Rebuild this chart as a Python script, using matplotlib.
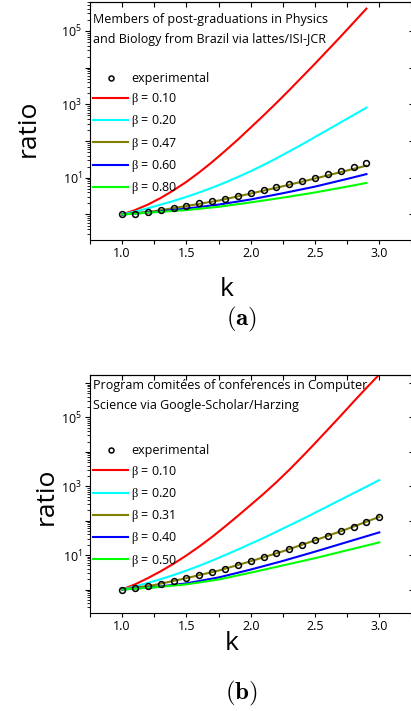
import matplotlib
matplotlib.use("Agg")
import matplotlib.pyplot as plt
from matplotlib import ticker
import numpy as np

plt.rcParams["font.family"] = ["Open Sans", "DejaVu Sans"]
plt.rcParams["mathtext.fontset"] = "custom"
plt.rcParams["mathtext.rm"] = "Liberation Serif"
plt.rcParams["mathtext.it"] = "Liberation Serif:italic"
plt.rcParams["mathtext.bf"] = "Liberation Serif:bold"

# ---- panel (a): post-graduations, lattes/ISI-JCR
k_exp_a = [1.0, 1.1, 1.2, 1.3, 1.4, 1.5, 1.6, 1.7, 1.8, 1.9,
           2.0, 2.1, 2.2, 2.3, 2.4, 2.5, 2.6, 2.7, 2.8, 2.9]
ratio_exp_a = [1.00, 1.05, 1.20, 1.32, 1.55, 1.74, 2.00, 2.34, 2.69, 3.16,
               3.89, 4.57, 5.62, 6.92, 8.13, 10.0, 12.6, 15.8, 20.0, 25.1]
k_fine_a = k_exp_a
k_fit_a = [1.0, 1.25, 1.5, 1.75, 2.0, 2.25, 2.5, 2.75, 2.9]
beta_a = ["0.10", "0.20", "0.47", "0.60", "0.80"]
fit_a_010 = [1, 1.32, 1.86, 2.82, 4.57, 7.76, 14.1, 26.9, 53.7, 110,
             234, 501, 1096, 2455, 5623, 12880, 30200, 70800, 169800, 407400]
fit_a_020 = [1, 1.20, 1.48, 1.86, 2.34, 3.02, 3.98, 5.37, 7.41, 10.5,
             15.1, 22.4, 33.9, 52.5, 81.3, 129, 204, 324, 513, 813]
fit_a_047 = [1, 1.23, 1.70, 2.40, 3.72, 5.89, 9.55, 15.8, 21.4]
fit_a_060 = [1, 1.17, 1.45, 1.86, 2.57, 3.80, 5.75, 9.33, 12.6]
fit_a_080 = [1, 1.15, 1.32, 1.62, 2.14, 2.88, 3.98, 5.75, 7.24]

# ---- panel (b): program committees, Google-Scholar/Harzing
k_exp_b = [1.0, 1.1, 1.2, 1.3, 1.4, 1.5, 1.6, 1.7, 1.8, 1.9, 2.0,
           2.1, 2.2, 2.3, 2.4, 2.5, 2.6, 2.7, 2.8, 2.9, 3.0]
ratio_exp_b = [1.00, 1.07, 1.23, 1.48, 1.82, 2.14, 2.63, 3.24, 3.98, 5.13, 6.61,
               8.71, 11.2, 14.8, 20.0, 26.9, 36.3, 49.0, 67.6, 91.2, 129]
k_fine_b = k_exp_b
k_fit_b = [1.0, 1.25, 1.5, 1.75, 2.0, 2.25, 2.5, 2.75, 3.0]
beta_b = ["0.10", "0.20", "0.31", "0.40", "0.50"]
fit_b_010 = [1, 1.41, 2.14, 3.39, 5.62, 9.77, 17.8, 33.9, 67.6, 138, 288,
             603, 1318, 3020, 7244, 17780, 44670, 112200, 288400, 724400, 1778000]
fit_b_020 = [1, 1.23, 1.55, 2.00, 2.63, 3.55, 4.90, 6.92, 10.0, 14.5, 21.4,
             31.6, 47.9, 72.4, 110, 170, 263, 407, 631, 977, 1514]
fit_b_031 = [1, 1.35, 2.14, 3.55, 6.61, 12.9, 26.9, 57.5, 129]
fit_b_040 = [1, 1.17, 1.51, 2.24, 3.80, 6.76, 12.6, 24.0, 45.7]
fit_b_050 = [1, 1.15, 1.41, 1.95, 3.09, 5.01, 8.13, 13.8, 23.4]

title_a = ["Members of post-graduations in Physics",
           "and Biology from Brazil via lattes/ISI-JCR"]
title_b = ["Program comitées of conferences in Computer",
           "Science via Google-Scholar/Harzing"]

colors = ["#ff0000", "#00ffff", "#808000", "#0000ff", "#00ff00"]

W, H = 411, 711


def odd_powers(y, pos):
    e = int(round(np.log10(y)))
    if e % 2 == 1:
        return r"$\mathregular{10^{%d}}$" % e
    return ""


def draw_panel(ax, k_exp, r_exp, fits, betas, title, ylim,
               title_y, leg_y, ylab_x, ylab_y, xlab_x, xlab_y):

    handles = []
    for (kk, f), b, c in zip(fits, betas, colors):
        h, = ax.plot(kk, f, color=c, lw=1.5,
                     label=r"$\mathrm{\beta}$ = " + b)
        handles.append(h)
    hexp, = ax.plot(k_exp, r_exp, "o", ms=4.2, mfc="none", mec="black",
                    mew=1.1, label="experimental", zorder=5)

    ax.set_yscale("log")
    ax.set_xlim(0.75, 3.266)
    ax.set_ylim(*ylim)

    ax.xaxis.set_major_locator(ticker.MultipleLocator(0.5))
    ax.xaxis.set_minor_locator(ticker.MultipleLocator(0.25))
    ax.xaxis.set_major_formatter(ticker.FormatStrFormatter("%.1f"))
    ax.yaxis.set_major_locator(ticker.LogLocator(base=10, numticks=20))
    ax.yaxis.set_minor_locator(ticker.LogLocator(base=10, subs=np.arange(2, 10),
                                                 numticks=20))
    ax.yaxis.set_major_formatter(ticker.FuncFormatter(odd_powers))
    ax.yaxis.set_minor_formatter(ticker.NullFormatter())

    ax.tick_params(axis="x", which="both", direction="out", length=3,
                   width=0.8, labelsize=9, pad=2)
    ax.tick_params(axis="y", which="major", direction="out", length=3.6,
                   width=0.8, labelsize=9, pad=2)
    ax.tick_params(axis="y", which="minor", direction="out", length=2,
                   width=0.6)

    top = ax.secondary_xaxis("top")
    top.xaxis.set_major_locator(ticker.MultipleLocator(0.25))
    top.tick_params(direction="in", length=3.6, width=0.8, labeltop=False)

    right = ax.secondary_yaxis("right")
    right.yaxis.set_major_locator(ticker.LogLocator(base=10, numticks=20))
    right.yaxis.set_minor_locator(ticker.LogLocator(base=10, subs=np.arange(2, 10),
                                                    numticks=20))
    right.yaxis.set_major_formatter(ticker.NullFormatter())
    right.yaxis.set_minor_formatter(ticker.NullFormatter())
    right.tick_params(which="major", direction="in", length=3.6, width=0.8)
    right.tick_params(which="minor", direction="in", length=2, width=0.6)

    for i, line in enumerate(title):
        ax.text(0.0103, title_y[i], line, transform=ax.transAxes,
                fontsize=9, ha="left", va="baseline")

    ax.legend([hexp] + handles, [hexp.get_label()] + [h.get_label() for h in handles],
              loc="upper left", bbox_to_anchor=(0.0103, leg_y),
              frameon=False, fontsize=9, borderpad=0, borderaxespad=0,
              handlelength=2.8, handletextpad=0.25, labelspacing=0.5,
              numpoints=1, markerscale=0.85)

    ax.set_ylabel("ratio", fontsize=19)
    ax.yaxis.label.set_va("baseline")
    ax.yaxis.set_label_coords(ylab_x, ylab_y)
    ax.set_xlabel("k", fontsize=19)
    ax.xaxis.label.set_va("baseline")
    ax.xaxis.set_label_coords(xlab_x, xlab_y)


fig = plt.figure(figsize=(W / 100, H / 100), dpi=100)

left = 90 / W
width = (413.5 - 90) / W
height = 238 / H

ax_a = fig.add_axes([left, 1 - 240 / H, width, height])
draw_panel(ax_a, k_exp_a, ratio_exp_a,
           [(k_fine_a, fit_a_010), (k_fine_a, fit_a_020), (k_fit_a, fit_a_047),
            (k_fit_a, fit_a_060), (k_fit_a, fit_a_080)],
           beta_a, title_a, (10 ** -0.695, 10 ** 5.79),
           title_y=[1 - 21.3 / 238, 1 - 41.3 / 238], leg_y=0.706,
           ylab_x=-0.17, ylab_y=0.471, xlab_x=0.423, xlab_y=-0.235)

ax_b = fig.add_axes([left, 1 - 613 / H, width, height])
draw_panel(ax_b, k_exp_b, ratio_exp_b,
           [(k_fine_b, fit_b_010), (k_fine_b, fit_b_020), (k_fit_b, fit_b_031),
            (k_fit_b, fit_b_040), (k_fit_b, fit_b_050)],
           beta_b, title_b, (10 ** -0.683, 10 ** 6.235),
           title_y=[1 - 14.5 / 238, 1 - 33.7 / 238], leg_y=0.708,
           ylab_x=-0.114, ylab_y=0.49, xlab_x=0.437, xlab_y=-0.155)

fig.text(241.5 / W, 1 - 325.5 / H, r"$\mathbf{(a)}$", math_fontfamily="cm",
         fontsize=18, ha="center", va="baseline")
fig.text(241.5 / W, 1 - 699 / H, r"$\mathbf{(b)}$", math_fontfamily="cm",
         fontsize=18, ha="center", va="baseline")

fig.savefig("out.png", dpi=100)
plt.close(fig)
